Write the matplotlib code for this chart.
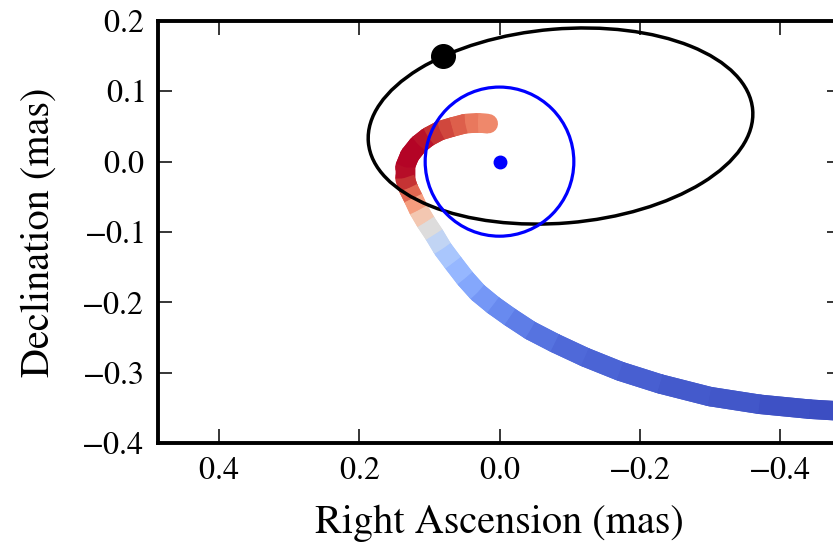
import matplotlib
matplotlib.use("Agg")
import matplotlib.pyplot as plt
from matplotlib.collections import LineCollection
from matplotlib.patches import Ellipse, Circle
from matplotlib.ticker import FuncFormatter
import numpy as np

# track on the sky (mas), from the top end down to the lower right
track_ra = [0.016, 0.031, 0.049, 0.068, 0.085, 0.102, 0.116, 0.128, 0.135, 0.135,
            0.130, 0.123, 0.115, 0.105, 0.093, 0.081, 0.066, 0.049, 0.031, 0.009,
            -0.015, -0.044, -0.079, -0.122, -0.172, -0.229, -0.300, -0.371, -0.443, -0.493]
track_dec = [0.054, 0.055, 0.054, 0.049, 0.044, 0.035, 0.024, 0.009, -0.008, -0.023,
             -0.038, -0.052, -0.069, -0.086, -0.104, -0.124, -0.144, -0.166, -0.186, -0.204,
             -0.221, -0.240, -0.258, -0.278, -0.298, -0.316, -0.334, -0.345, -0.352, -0.355]
# colour value along the track (coolwarm)
track_val = [0.78, 0.80, 0.85, 0.90, 0.94, 0.97, 1.0, 1.0, 1.0, 0.98,
             0.92, 0.80, 0.68, 0.55, 0.45, 0.36, 0.30, 0.25, 0.20, 0.16,
             0.13, 0.10, 0.08, 0.06, 0.05, 0.04, 0.03, 0.02, 0.01, 0.0]

# orbit ellipse
orbit_center = (-0.087, 0.0506)
orbit_width = 0.550
orbit_height = 0.276
orbit_angle = -4.8
companion = (0.0805, 0.150)

# blue circle around the host
host = (0.0, 0.0)
host_radius = 0.106

xticks = [0.4, 0.2, 0.0, -0.2, -0.4]
yticks = [-0.4, -0.3, -0.2, -0.1, 0.0, 0.1, 0.2]

plt.rcParams['font.family'] = ['STIXGeneral', 'DejaVu Serif']
plt.rcParams['mathtext.fontset'] = 'stix'

fig = plt.figure(figsize=(8.33, 5.43), dpi=100)
ax = fig.add_axes([0.1897, 0.1842, 0.8199, 0.7772])

# coloured track: round-capped copy underneath fills the joints, butt-capped on top
pts = np.column_stack([track_ra, track_dec])
segs = np.stack([pts[:-1], pts[1:]], axis=1)
vals = np.array(track_val)
seg_vals = 0.5 * (vals[:-1] + vals[1:])
for cap, z in [('round', 1.0), ('butt', 1.1)]:
    lc = LineCollection(segs, cmap='coolwarm', norm=plt.Normalize(0, 1),
                        linewidths=14, capstyle=cap, zorder=z)
    lc.set_array(seg_vals)
    ax.add_collection(lc)

ax.add_patch(Ellipse(orbit_center, orbit_width, orbit_height, angle=orbit_angle,
                     fill=False, edgecolor='black', lw=2.5, zorder=2))
ax.add_patch(Circle(host, host_radius, fill=False, edgecolor='blue', lw=2.3, zorder=3))
ax.plot([companion[0]], [companion[1]], 'o', color='black', ms=17, zorder=4)
ax.plot([host[0]], [host[1]], 'o', color='blue', ms=9, mec='blue', zorder=4)

ax.set_xlim(0.487, -0.487)
ax.set_ylim(-0.4, 0.2)
ax.set_xticks(xticks)
ax.set_yticks(yticks)
fmt = FuncFormatter(lambda v, p: '$%.1f$' % (0.0 if abs(v) < 1e-9 else v))
ax.xaxis.set_major_formatter(fmt)
ax.yaxis.set_major_formatter(fmt)
ax.tick_params(direction='in', length=10, width=1.1, top=True, right=True,
               labelsize=23, pad=10)
for s in ax.spines.values():
    s.set_linewidth(2.8)

ax.set_xlabel('Right Ascension (mas)', fontsize=29, labelpad=13)
ax.set_ylabel('Declination (mas)', fontsize=29, labelpad=17)

fig.savefig('out.png', dpi=100)
